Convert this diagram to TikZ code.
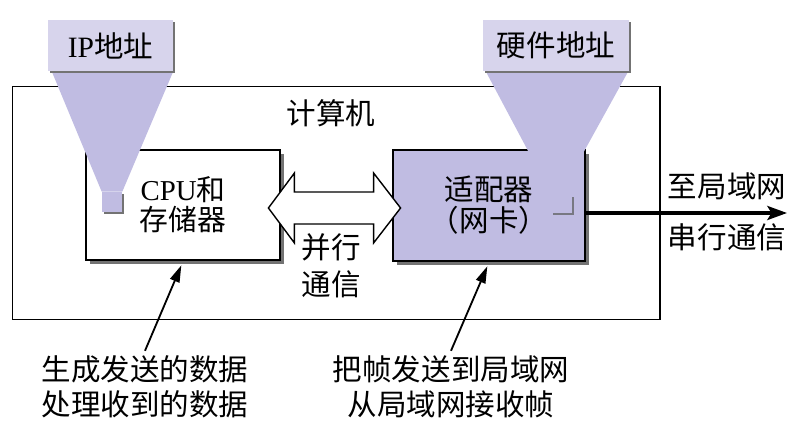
\documentclass[tikz,border=0pt]{standalone}
\usepackage{fontspec}
\setmainfont{Liberation Serif}
\newfontfamily\cjk{Noto Sans CJK SC}
\usetikzlibrary{arrows.meta,calc,shadows}
\definecolor{lavender}{RGB}{192,188,226}
\definecolor{palelavender}{RGB}{215,212,236}
\definecolor{shadowgray}{RGB}{115,115,115}
\definecolor{markgray}{RGB}{120,120,130}
\pgfdeclarelayer{front}
\pgfsetlayers{main,front}
\newcommand\labelsize{\fontsize{21}{25}\selectfont}
\tikzset{
  host/.style={rectangle, draw=black, line width=1pt, anchor=north west,
               minimum width=16.175cm, minimum height=5.825cm},
  unit/.style={rectangle, draw=black, line width=2pt, fill=white, align=center,
               font=\fontsize{20.5}{21.5}\selectfont,
               drop shadow={shadow xshift=2.6pt, shadow yshift=-2.6pt, fill=shadowgray, opacity=1}},
  unitlav/.style={unit, fill=lavender, font=\cjk\fontsize{21}{22}\selectfont},
  tag/.style={rectangle, fill=palelavender, inner sep=0pt, font=\labelsize,
              minimum height=1.275cm,
              drop shadow={shadow xshift=1.3pt, shadow yshift=-1.3pt, fill=shadowgray, opacity=1}},
  funnel/.style={fill=lavender},
  bus/.style={draw=black, fill=white, line width=1pt, line join=miter},
  arrow/.style={-{Triangle[length=12pt, width=7pt]}, line width=1.3pt, shorten >=3pt},
  wire/.style={-{Stealth[length=14pt, width=10pt, inset=3pt]}, line width=2.3pt},
  label/.style={align=center, font=\cjk\labelsize},
}

\begin{document}
\begin{tikzpicture}[x=0.025cm, y=-0.025cm]
\useasboundingbox (0,0) rectangle (796,440);
% computer with its two units
\node[host] (host) at (12,86) {};
\node[label] (hostname) at (331,113) {计算机};
\node[unit, minimum width=4.85cm, minimum height=2.75cm] (cpu) at (183,205) {CPU{\cjk 和}\\{\cjk 存储器}};
\node[unitlav, minimum width=4.8cm, minimum height=2.775cm] (nic) at (489,205.5) {适配器\\（网卡）};
\draw[markgray, line width=0.8pt] (553,214) -- (573,214) -- (573,197);

% parallel link
\coordinate (busL) at ($(cpu.east)+(-13,3)$);
\coordinate (busR) at ($(nic.west)+(9,2.5)$);
\draw[bus] (busL) -- ++(26,-35) -- ++(0,19) -- ($(busR)+(-27,-16)$) -- ++(0,-19) -- (busR)
  -- ++(-27,35) -- ++(0,-19) -- ($(busL)+(26,16)$) -- ++(0,19) -- cycle;
\node[label] (buslabel) at (331,266) {并行\\[1.5pt]通信};

% serial link to the LAN
\coordinate (lan) at (787,213);
\draw[wire] (nic.east |- lan) -- (lan);
\node[label] (lanup) at (727,186) {至局域网};
\node[label] (landown) at (727,237) {串行通信};

% addresses
\begin{pgfonlayer}{front}
\node[tag, minimum width=3.125cm] (iptag) at (110.5,45.5) {IP{\cjk 地址}};
\node[tag, minimum width=3.65cm] (hwtag) at (556,45.5) {\cjk 硬件地址};
\node[tag, fill=lavender, minimum width=0.5cm, minimum height=0.5cm] (ipdot) at (112,202) {};
\end{pgfonlayer}
\fill[funnel] ($(iptag.south west)+(4,0)$) -- (iptag.south east) -- (ipdot.north east) -- (ipdot.north west) -- cycle;
\coordinate (hwfoot) at ($(nic.north east)+(-58,3)$);
\fill[funnel] ($(hwtag.south west)+(3,0)$) -- ($(hwtag.south east)+(-1,0)$) -- ($(nic.north east)+(-2.5,3)$) -- (hwfoot) -- cycle;

% notes
\node[label] (cpunote) at (145,387) {生成发送的数据\\处理收到的数据};
\node[label] (nicnote) at (451,387) {把帧发送到局域网\\从局域网接收帧};
\draw[arrow] (cpunote.north) -- (cpu.south);
\draw[arrow] (nicnote.north) -- (nic.south);
\end{tikzpicture}
\end{document}
